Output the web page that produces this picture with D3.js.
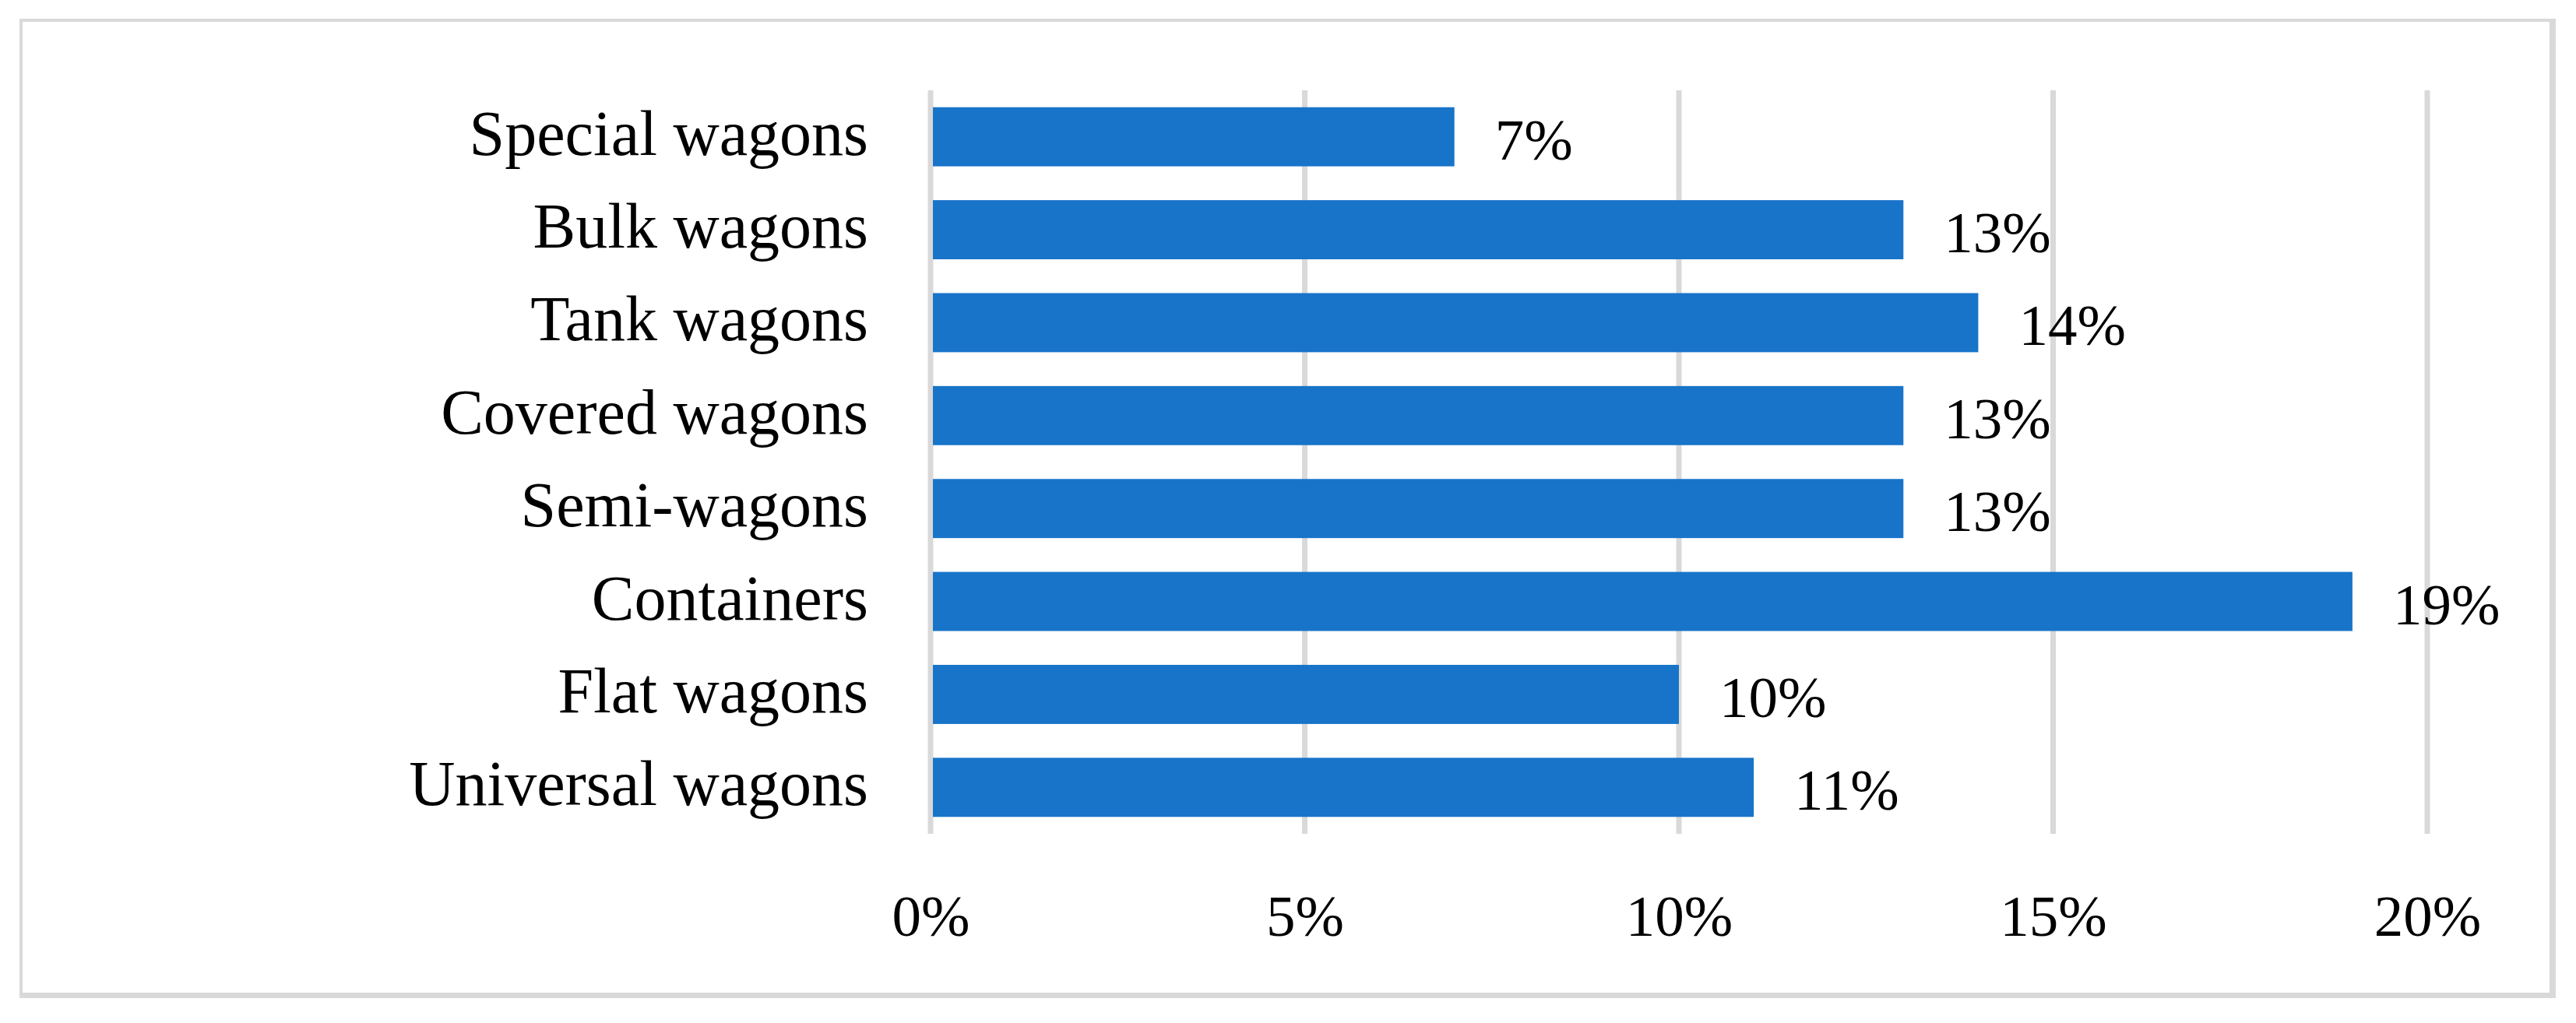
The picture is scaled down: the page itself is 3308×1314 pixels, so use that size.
<!DOCTYPE html>
<html>
<head>
<meta charset="utf-8">
<script src="https://cdn.jsdelivr.net/npm/d3@7"></script>
<style>
  html, body { margin: 0; padding: 0; background: #ffffff; }
  svg { display: block; }
  text { font-family: "Liberation Serif", "Times New Roman", serif; fill: #000000; }
</style>
</head>
<body>
<svg id="chart" width="3308" height="1314"></svg>
<script>
// ---- data ----
const categories = ["Special wagons", "Bulk wagons", "Tank wagons", "Covered wagons",
                    "Semi-wagons", "Containers", "Flat wagons", "Universal wagons"];
const values = [0.07, 0.13, 0.14, 0.13, 0.13, 0.19, 0.10, 0.11];
const valueLabels = ["7%", "13%", "14%", "13%", "13%", "19%", "10%", "11%"];
const tickValues = [0, 0.05, 0.10, 0.15, 0.20];
const tickLabels = ["0%", "5%", "10%", "15%", "20%"];

// ---- layout ----
const W = 3308, H = 1314;
const plot = { left: 1195, right: 3117, top: 116, bottom: 1071 };
const catFontSize = 82;
const numFontSize = 75;
const barColor = "#1874C9";
const gridColor = "#D9D9D9";

const svg = d3.select("#chart");

// outer frame
svg.append("rect").attr("x", 25).attr("y", 24).attr("width", 3282 - 25).attr("height", 1282 - 24)
  .attr("fill", gridColor);
svg.append("rect").attr("x", 29).attr("y", 28).attr("width", 3274 - 29).attr("height", 1275 - 28)
  .attr("fill", "#ffffff");

const x = d3.scaleLinear().domain([0, 0.20]).range([plot.left, plot.right]);
const y = d3.scaleBand().domain(categories).range([plot.top, plot.bottom])
  .paddingInner(0.364).paddingOuter(0.182);

// gridlines
svg.append("g").selectAll("line").data(tickValues).join("line")
  .attr("x1", d => x(d)).attr("x2", d => x(d))
  .attr("y1", plot.top).attr("y2", plot.bottom)
  .attr("stroke", gridColor).attr("stroke-width", 7);

// bars
svg.append("g").selectAll("rect").data(categories).join("rect")
  .attr("x", x(0) + 3)
  .attr("y", d => y(d))
  .attr("width", (d, i) => x(values[i]) - x(0) - 3)
  .attr("height", y.bandwidth())
  .attr("fill", barColor);

// value labels
svg.append("g").selectAll("text").data(categories).join("text")
  .attr("x", (d, i) => x(values[i]) + 52)
  .attr("y", d => y(d) + y.bandwidth() / 2 + 29)
  .attr("font-size", numFontSize)
  .text((d, i) => valueLabels[i]);

// category labels
svg.append("g").selectAll("text").data(categories).join("text")
  .attr("x", 1115)
  .attr("y", d => y(d) + y.bandwidth() / 2 + 23)
  .attr("text-anchor", "end")
  .attr("font-size", catFontSize)
  .text(d => d);

// x axis tick labels
const xAxis = d3.axisBottom(x).tickValues(tickValues)
  .tickFormat((d, i) => tickLabels[i]).tickSize(0).tickPadding(0);
const gx = svg.append("g").attr("transform", `translate(0, ${plot.bottom})`).call(xAxis);
gx.select(".domain").remove();
gx.selectAll("text")
  .attr("y", 131).attr("dy", null)
  .attr("font-size", numFontSize)
  .attr("font-family", '"Liberation Serif", "Times New Roman", serif')
  .attr("fill", "#000000");
</script>
</body>
</html>
